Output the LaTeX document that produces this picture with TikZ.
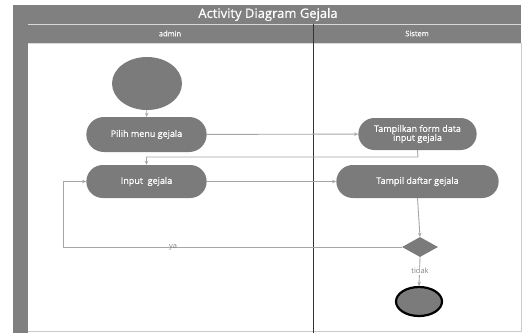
\documentclass[tikz,border=0pt]{standalone}
\usepackage{fontspec}
\setmainfont{Open Sans}
\newfontfamily\semib[FakeBold=0.6]{Open Sans}
\usetikzlibrary{shapes.geometric,shapes.misc,arrows.meta}
\definecolor{hdr}{HTML}{808080}
\definecolor{nd}{HTML}{7B7B7B}
\definecolor{ln}{HTML}{A6A6A6}
\tikzset{
  act/.style={draw=none,fill=nd,rounded rectangle,minimum height=#1,text=white,font=\semib\fontsize{9}{10.5}\selectfont,align=center},
  act/.default=33pt,
  flow/.style={draw=ln,line width=0.9pt,-{Stealth[length=4pt,width=3.5pt]}},
  lbl/.style={text=ln!80!black,font=\fontsize{7.5}{9}\selectfont}
}
\begin{document}
\begin{tikzpicture}[x=1pt,y=-1pt]
\useasboundingbox (0,0) rectangle (524,333);
\fill[white] (0,0) rectangle (524,333);
% frame
\fill[hdr] (13,5) rectangle (521,24);
\fill[hdr] (13,24) rectangle (28,333);
\fill[hdr] (28,24) rectangle (521,43);
\draw[ln!60,line width=0.5pt] (521,43) -- (521,331) -- (28,331);
\draw[white!85!black,line width=0.6pt] (28,24) -- (521,24);
\draw[white!85!black,line width=0.6pt] (28,43) -- (521,43);
\draw[black!80,line width=0.8pt] (313,24) -- (313,333);
\node[text=white,font=\semib\fontsize{13}{15}\selectfont] (title) at (268,14.5) {Activity Diagram Gejala};
\node[text=white,font=\semib\fontsize{7.5}{9}\selectfont] (admin) at (170,33.5) {admin};
\node[text=white,font=\semib\fontsize{7.5}{9}\selectfont] (sistem) at (417,33.5) {Sistem};
% nodes
\node[ellipse,fill=nd,minimum width=70pt,minimum height=53pt,inner sep=0pt] (start) at (147,83.5) {};
\node[act=35pt,minimum width=127pt] (pilih) at (146.5,134.5) {Pilih menu gejala};
\node[act=33pt,minimum width=127pt] (input) at (146.5,181.5) {Input\ \ gejala};
\node[act=32pt,minimum width=125pt] (form) at (417.5,134) {Tampilkan form data\\[-1.5pt]input gejala};
\node[act=33pt,minimum width=169pt] (daftar) at (417.5,181.5) {Tampil daftar gejala};
\node[diamond,fill=nd,minimum width=36pt,minimum height=20pt,inner sep=0pt] (dec) at (420,247) {};
\node[ellipse,fill=nd,draw=black,line width=2.2pt,minimum width=46pt,minimum height=29pt,inner sep=0pt] (end) at (419,301.5) {};
\coordinate (c1) at (418,157);
\coordinate (c2) at (146.5,157);
\coordinate (c3) at (63,247);
\coordinate (c4) at (63,181.5);
% connectors
\draw[flow] (start) -- (pilih);
\draw[flow] (pilih) -- (form);
\draw[flow] (form.south) -- (c1) -- (c2) -- (input);
\draw[flow] (input) -- (daftar);
\draw[flow] (daftar.south) -- (dec.north);
\draw[flow] (dec.west) -- (c3) -- (c4) -- (input.west);
\node[lbl] (ya) at (173,247) {ya};
\draw[flow] (dec.south) -- (end.north);
\node[lbl,fill=white,inner sep=1pt] (tidak) at (420,271) {tidak};
\end{tikzpicture}
\end{document}
